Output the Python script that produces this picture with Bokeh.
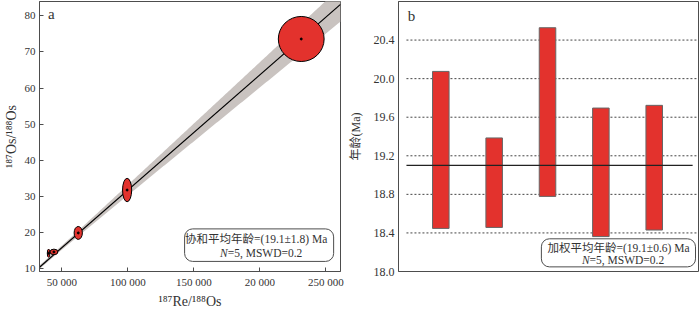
import numpy as np
from bokeh.plotting import figure
from bokeh.layouts import row
from bokeh.models import FixedTicker, Label, BoxAnnotation, Range1d
from bokeh.embed import file_html
from bokeh.resources import INLINE

# ---------------- data: panel a (Re-Os isochron) ----------------
re_os = [40040, 44060, 62480, 99500, 231400]        # 187Re/188Os
os_os = [14.17, 14.53, 19.8, 31.7, 73.6]            # 187Os/188Os
re_err = [2000, 5940, 6240, 6910, 34700]            # ellipse full width (x)
os_err = [2.28, 1.54, 3.6, 6.5, 12.5]               # ellipse full height (y)
iso_slope = 3.197e-4
iso_intercept = -0.3
slope_err = 2.1e-5
intercept_err = 0.5
pivot_x = 35000
x_ticks_a = [50000, 100000, 150000, 200000, 250000]
x_tick_labels_a = ["50 000", "100 000", "150 000", "20 000", "250 000"]
y_ticks_a = [10, 20, 30, 40, 50, 60, 70, 80]

# ---------------- data: panel b (weighted mean) ----------------
samples = [1, 2, 3, 4, 5]
age_top = [20.075, 19.385, 20.528, 19.695, 19.723]
age_bottom = [18.447, 18.457, 18.779, 18.362, 18.43]
mean_age = 19.1
y_ticks_b = [18.0, 18.4, 18.8, 19.2, 19.6, 20.0, 20.4]
y_tick_labels_b = ["18.0", "18.4", "18.8", "19.2", "19.6", "20.0", "20.4"]

SERIF = "'Liberation Serif', 'Noto Sans CJK SC', serif"
TXT = "#333333"
FRAME = "#4d4d4d"
RED = "#E3322D"
BAND = "#C9C3C0"
BOX_FONT = "11.5px"


def style(p):
    p.outline_line_color = FRAME
    p.outline_line_width = 1
    p.xgrid.visible = False
    p.ygrid.visible = False
    p.background_fill_color = "white"
    p.border_fill_color = "white"
    for ax in p.axis:
        ax.axis_line_color = FRAME
        ax.major_tick_line_color = FRAME
        ax.major_tick_in = 4
        ax.major_tick_out = 0
        ax.minor_tick_line_color = None
        ax.major_label_text_font = SERIF
        ax.major_label_text_color = TXT
        ax.axis_label_text_font = SERIF
        ax.axis_label_text_color = TXT
        ax.axis_label_text_font_style = "normal"


# ---------------- panel a ----------------
xa0, xa1 = 33130, 261150
pa = figure(width=345, height=311, x_range=Range1d(xa0, xa1), y_range=Range1d(9.1, 84),
            output_backend="svg", toolbar_location=None,
            min_border_left=33, min_border_right=5, min_border_top=1, min_border_bottom=35)
style(pa)
pa.xaxis.ticker = FixedTicker(ticks=x_ticks_a)
pa.xaxis.major_label_overrides = {t: l for t, l in zip(x_ticks_a, x_tick_labels_a)}
pa.yaxis.ticker = FixedTicker(ticks=y_ticks_a)
pa.xaxis.major_label_text_font_size = "11px"
pa.yaxis.major_label_text_font_size = "11px"
pa.xaxis.major_label_standoff = 4
pa.yaxis.major_label_standoff = 4
pa.xaxis.axis_label = "¹⁸⁷Re/¹⁸⁸Os"
pa.yaxis.axis_label = "¹⁸⁷Os/¹⁸⁸Os"
pa.xaxis.axis_label_text_font_size = "14px"
pa.yaxis.axis_label_text_font_size = "14px"
pa.xaxis.axis_label_standoff = 3
pa.yaxis.axis_label_standoff = 3

xs = np.linspace(xa0, xa1, 200)
ys = iso_intercept + iso_slope * xs
hw = np.sqrt(intercept_err ** 2 + (slope_err * (xs - pivot_x)) ** 2)
pa.varea(x=xs, y1=ys - hw, y2=ys + hw, fill_color=BAND, fill_alpha=1.0)
pa.line(x=[xa0, xa1], y=[iso_intercept + iso_slope * xa0, iso_intercept + iso_slope * xa1],
        line_color="black", line_width=1.2)
pa.ellipse(x=re_os, y=os_os, width=re_err, height=os_err, fill_color=RED,
           line_color="black", line_width=1)
pa.scatter(x=re_os, y=os_os, size=2, color="black")

box_a = BoxAnnotation(left=143055, right=255950, bottom=11.9, top=20.92, border_radius=8,
                      fill_color="white", fill_alpha=1.0, line_color=FRAME, line_alpha=1.0,
                      line_width=1)
pa.add_layout(box_a)
pa.add_layout(Label(x=197270, y=18.05, text="协和平均年龄=(19.1±1.8) Ma", text_font=SERIF,
                    text_font_size=BOX_FONT, text_color=TXT, text_align="center", text_baseline="middle"))
pa.add_layout(Label(x=175730, y=14.26, text="N", text_font=SERIF, text_font_style="italic",
                    text_font_size=BOX_FONT, text_color=TXT, text_align="right", text_baseline="middle"))
pa.add_layout(Label(x=175730, y=14.26, text="=5, MSWD=0.2", text_font=SERIF,
                    text_font_size=BOX_FONT, text_color=TXT, text_align="left", text_baseline="middle"))
pa.add_layout(Label(x=42040, y=80.46, text="a", text_font=SERIF, text_font_size="15px",
                    text_color=TXT, text_align="center", text_baseline="middle"))

# ---------------- panel b ----------------
xb0, xb1 = 0.207, 5.83
pb = figure(width=355, height=311, x_range=Range1d(xb0, xb1), y_range=Range1d(18.0, 20.8),
            output_backend="svg", toolbar_location=None,
            min_border_left=50, min_border_right=2, min_border_top=1, min_border_bottom=35)
style(pb)
pb.xaxis.visible = False
pb.yaxis.ticker = FixedTicker(ticks=y_ticks_b)
pb.yaxis.major_label_overrides = {t: l for t, l in zip(y_ticks_b, y_tick_labels_b)}
pb.yaxis.major_tick_in = 0
pb.yaxis.major_label_text_font_size = "12px"
pb.yaxis.major_label_standoff = 4
pb.yaxis.axis_label = "年龄(Ma)"
pb.yaxis.axis_label_text_font_size = "12px"
pb.yaxis.axis_label_standoff = 8

grid_y = [t for t in y_ticks_b if t > 18.0]
pb.segment(x0=[0.356] * len(grid_y), x1=[xb1] * len(grid_y), y0=grid_y, y1=grid_y,
           line_color="#444444", line_width=1, line_dash="2 2")
pb.vbar(x=samples, width=0.31, top=age_top, bottom=age_bottom, fill_color=RED,
        line_color="#666666", line_width=1)
pb.line(x=[0.356, 5.72], y=[mean_age, mean_age], line_color="#222222", line_width=1.3)

box_b = BoxAnnotation(left=2.885, right=5.774, bottom=18.048, top=18.339, border_radius=8,
                      fill_color="white", fill_alpha=1.0, line_color=FRAME, line_alpha=1.0,
                      line_width=1)
pb.add_layout(box_b)
pb.add_layout(Label(x=4.33, y=18.244, text="加权平均年龄=(19.1±0.6) Ma", text_font=SERIF,
                    text_font_size=BOX_FONT, text_color=TXT, text_align="center", text_baseline="middle"))
pb.add_layout(Label(x=3.789, y=18.116, text="N", text_font=SERIF, text_font_style="italic",
                    text_font_size=BOX_FONT, text_color=TXT, text_align="right", text_baseline="middle"))
pb.add_layout(Label(x=3.789, y=18.116, text="=5, MSWD=0.2", text_font=SERIF,
                    text_font_size=BOX_FONT, text_color=TXT, text_align="left", text_baseline="middle"))
pb.add_layout(Label(x=0.449, y=20.647, text="b", text_font=SERIF, text_font_size="15px",
                    text_color=TXT, text_align="center", text_baseline="middle"))

layout = row(pa, pb)
open("out.html", "w").write(file_html(layout, INLINE))
